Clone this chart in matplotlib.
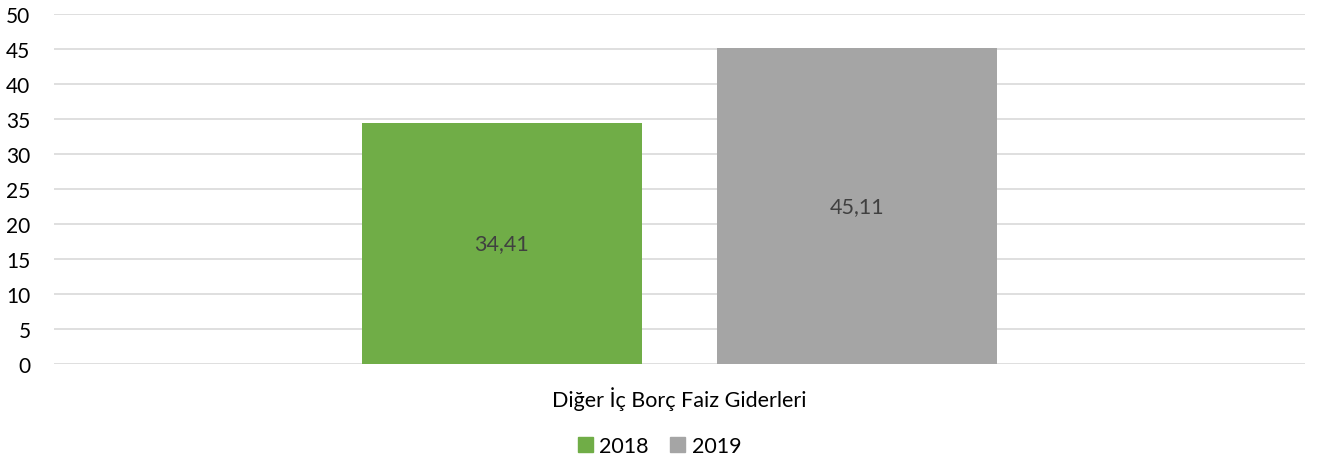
import matplotlib
matplotlib.use('Agg')
import matplotlib.pyplot as plt
from matplotlib.patches import Patch

plt.rcParams['font.family'] = ['Lato', 'DejaVu Sans']

# veriler
category = 'Diğer İç Borç Faiz Giderleri'
years = ['2018', '2019']
values = [34.41, 45.11]
colors = ['#70AD47', '#A5A5A5']

fig = plt.figure(figsize=(13.19, 4.64), dpi=100)
ax = fig.add_axes([0.041, 0.2134, 0.9484, 0.7543])

width = 0.224
offsets = [-0.142, 0.142]
for yr, val, col, off in zip(years, values, colors, offsets):
    bars = ax.bar(off, val, width=width, color=col, label=yr, zorder=3)
    ax.bar_label(bars, labels=[f'{val:.2f}'.replace('.', ',')], label_type='center',
                 fontsize=15.5, color='#404040')

ax.set_xlim(-0.5, 0.5)
ax.set_ylim(0, 50)
ax.set_yticks(range(0, 51, 5))
ax.grid(axis='y', color='#D9D9D9', linewidth=1.2, zorder=0)
for s in ax.spines.values():
    s.set_visible(False)
ax.tick_params(axis='y', length=0, labelsize=15, pad=17, colors='#000000')
ax.set_xticks([0])
ax.set_xticklabels([category])
ax.tick_params(axis='x', length=0, labelsize=15.5, pad=16)

handles = [Patch(color=c, label=y) for c, y in zip(colors, years)]
fig.legend(handles=handles, loc='center', bbox_to_anchor=(0.5, 0.036), ncol=2,
           frameon=False, fontsize=15.5, handlelength=0.7, handleheight=0.7,
           handletextpad=0.3, columnspacing=1.0)

fig.savefig('out.png', dpi=100)
